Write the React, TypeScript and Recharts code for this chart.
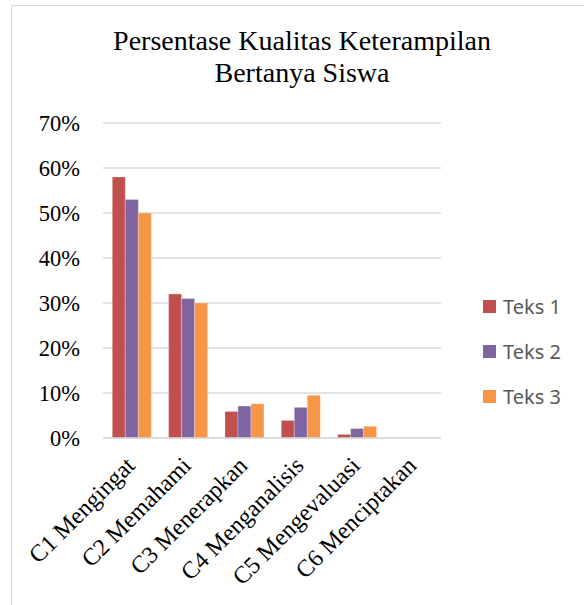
import React from "react";
import { Bar, BarChart, CartesianGrid, Legend, XAxis, YAxis } from "recharts";

const categories = [
  "C1 Mengingat",
  "C2 Memahami",
  "C3 Menerapkan",
  "C4 Menganalisis",
  "C5 Mengevaluasi",
  "C6 Menciptakan",
];
const teks1 = [58, 32, 5.9, 3.9, 0.8, 0];
const teks2 = [53, 31, 7.1, 6.8, 2.1, 0];
const teks3 = [50, 30, 7.6, 9.5, 2.6, 0];
const yTicks = [0, 10, 20, 30, 40, 50, 60, 70];

const series = [
  { key: "teks1", name: "Teks 1", color: "#C0504D" },
  { key: "teks2", name: "Teks 2", color: "#8064A2" },
  { key: "teks3", name: "Teks 3", color: "#F79646" },
];

const data = categories.map((c, i) => ({
  name: c,
  teks1: teks1[i],
  teks2: teks2[i],
  teks3: teks3[i],
}));

const serif = "'Liberation Serif', 'Times New Roman', serif";

function XTick(props: any) {
  const { x, y, payload } = props;
  const ax = x + 5;
  const ay = y + 21;
  return (
    <text
      x={ax}
      y={ay}
      textAnchor="end"
      transform={`rotate(-45, ${ax}, ${ay})`}
      fontFamily={serif}
      fontSize={24}
      fill="#000"
    >
      {payload.value}
    </text>
  );
}

function LegendBox() {
  return (
    <div style={{ fontFamily: "'Noto Sans', sans-serif", fontSize: 20, color: "#595959" }}>
      {series.map((s) => (
        <div key={s.key} style={{ display: "flex", alignItems: "center", height: 45 }}>
          <span style={{ width: 13, height: 13, background: s.color, display: "inline-block", marginRight: 7 }} />
          <span>{s.name}</span>
        </div>
      ))}
    </div>
  );
}

export default function App() {
  return (
    <div style={{ position: "absolute", left: 0, top: 0, width: 584, height: 605, overflow: "hidden", background: "#fff" }}>
      <div
        style={{
          position: "absolute",
          left: 11,
          top: 5,
          width: 600,
          height: 620,
          border: "1.5px solid #D9D9D9",
        }}
      />
      <div
        style={{
          position: "absolute",
          left: 0,
          width: 604,
          top: 25,
          textAlign: "center",
          fontFamily: serif,
          fontSize: 28,
          lineHeight: "32px",
          color: "#000",
        }}
      >
        Persentase Kualitas Keterampilan
        <br />
        Bertanya Siswa
      </div>
      <div style={{ position: "absolute", left: 0, top: 0 }}>
        <BarChart
          width={584}
          height={605}
          data={data}
          margin={{ top: 123, right: 143, left: 0, bottom: 0 }}
          barCategoryGap="16.5%"
          barGap={0}
        >
          <CartesianGrid vertical={false} stroke="#D9D9D9" strokeWidth={1.3} />
          <XAxis
            dataKey="name"
            interval={0}
            tick={<XTick />}
            tickLine={false}
            axisLine={{ stroke: "#D9D9D9", strokeWidth: 1.3 }}
            height={167}
          />
          <YAxis
            domain={[0, 70]}
            ticks={yTicks}
            interval={0}
            width={103}
            tickLine={false}
            axisLine={false}
            tickMargin={17}
            tickFormatter={(v) => `${v}%`}
            tick={{ fontFamily: serif, fontSize: 22.5, fill: "#000" }}
          />
          <Legend
            layout="vertical"
            align="center"
            verticalAlign="middle"
            content={<LegendBox />}
            wrapperStyle={{ position: "absolute", left: 483, top: 284, width: 100 }}
          />
          {series.map((s) => (
            <Bar
              key={s.key}
              dataKey={s.key}
              name={s.name}
              fill={s.color}
              stroke="#ffffff"
              strokeOpacity={0.5}
              strokeWidth={0.5}
              isAnimationActive={false}
            />
          ))}
        </BarChart>
      </div>
    </div>
  );
}
